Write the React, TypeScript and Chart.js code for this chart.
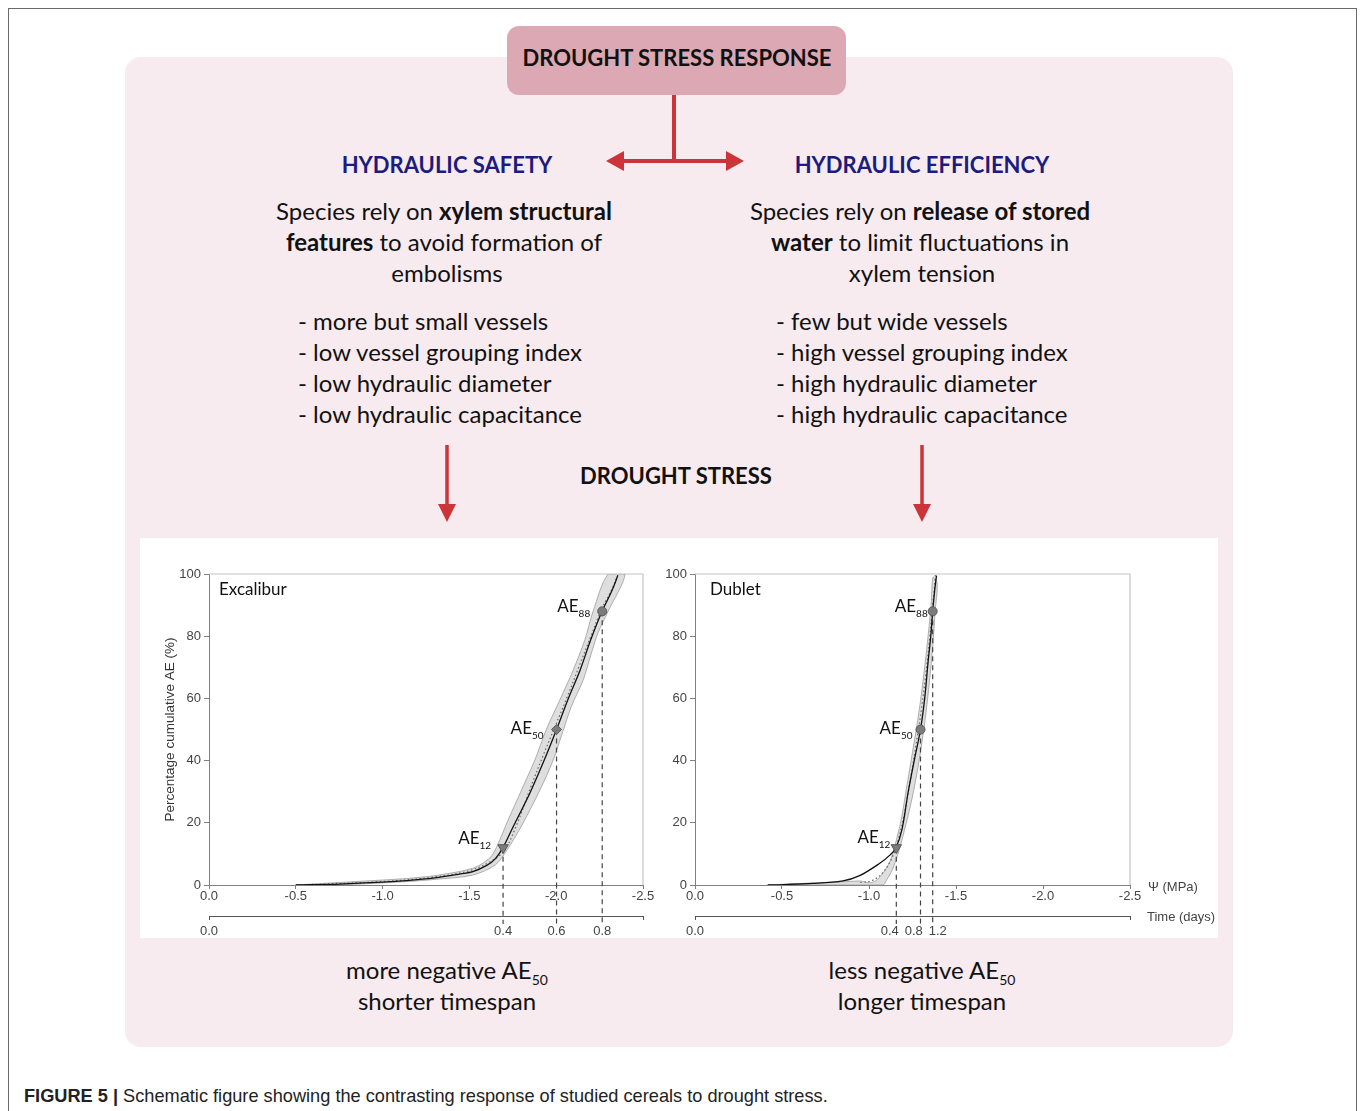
import React, { useEffect, useRef } from "react";
import { Chart, registerables } from "chart.js";

Chart.register(...registerables);

type P = [number, number];

// ---------- data ----------
const psiTicks = [0, -0.5, -1.0, -1.5, -2.0, -2.5];
const pctTicks = [0, 20, 40, 60, 80, 100];
const aeLevels = [12, 50, 88];
const guideBottom = -12.5; // % value where the dashed AE guides end (time axis)

const excaliburCurve: P[] = [
  [-0.5, 0], [-0.75, 0.3], [-1.0, 0.9], [-1.137, 1.4], [-1.3, 2.3], [-1.45, 3.6],
  [-1.52, 4.3], [-1.6, 6.3], [-1.65, 8.5], [-1.694, 12.1], [-1.75, 18.5], [-1.848, 29.5],
  [-1.93, 40], [-2.002, 50], [-2.07, 60], [-2.137, 69], [-2.2, 79], [-2.265, 88.1],
  [-2.32, 94.5], [-2.355, 99.5],
];
const excaliburDotted: P[] = [
  [-0.5, 0], [-1.0, 1.1], [-1.3, 2.6], [-1.5, 4.6], [-1.62, 7.5], [-1.7, 11], [-1.77, 19],
  [-1.85, 31], [-1.92, 41], [-1.99, 50.5], [-2.06, 60], [-2.13, 70], [-2.2, 80],
  [-2.26, 88.5], [-2.32, 95], [-2.365, 101],
];
const excaliburBandUpper: P[] = [
  [-0.5, 0], [-0.75, 0.8], [-1.0, 1.6], [-1.14, 2.1], [-1.3, 3.0], [-1.52, 5.4],
  [-1.616, 8.6], [-1.656, 12.1], [-1.723, 20.9], [-1.8, 30.5], [-1.877, 40.2],
  [-1.944, 50.1], [-2.021, 59.5], [-2.098, 69.1], [-2.165, 78.8], [-2.213, 88.1], [-2.3, 100],
];
const excaliburBandLower: P[] = [
  [-2.396, 100], [-2.3, 88.1], [-2.24, 81], [-2.2, 74], [-2.156, 66], [-2.088, 57.5],
  [-2.03, 48], [-1.983, 40.2], [-1.906, 30.5], [-1.8, 19], [-1.714, 11], [-1.65, 6.5],
  [-1.52, 3.2], [-1.3, 1.8], [-1.137, 1.1], [-0.77, 0.1], [-0.5, 0],
];
const excaliburAEPsi = [-1.694, -2.002, -2.265];
const excaliburTimePsi = [0, -1.694, -2.002, -2.265, -2.5];
const excaliburTimeLabels = ["0.0", "0.4", "0.6", "0.8", ""];

const dubletCurve: P[] = [
  [-0.418, 0], [-0.68, 0.5], [-0.85, 1.3], [-0.946, 3.0], [-1.062, 7.0], [-1.12, 9.6],
  [-1.155, 12], [-1.19, 18], [-1.224, 29.5], [-1.26, 40], [-1.296, 50], [-1.32, 60],
  [-1.34, 72], [-1.355, 80], [-1.366, 88], [-1.378, 95], [-1.388, 99.5],
];
const dubletDotted: P[] = [
  [-0.95, 0.8], [-1.02, 1.5], [-1.08, 4], [-1.13, 8.5], [-1.16, 13], [-1.2, 22],
  [-1.235, 33], [-1.27, 45], [-1.3, 56], [-1.325, 67], [-1.348, 79], [-1.366, 90],
  [-1.378, 97], [-1.383, 101],
];
const dubletBandUpper: P[] = [
  [-0.418, 0], [-0.7, 0.7], [-0.88, 1.1], [-0.95, 1.3], [-1.0, 0.7], [-1.04, 1.4],
  [-1.08, 3.8], [-1.12, 7.5], [-1.148, 12.5], [-1.185, 21], [-1.215, 31], [-1.248, 42],
  [-1.28, 53], [-1.305, 63], [-1.326, 73], [-1.345, 83], [-1.358, 91], [-1.368, 99],
];
const dubletBandLower: P[] = [
  [-1.392, 97], [-1.38, 88], [-1.368, 78], [-1.352, 68], [-1.333, 58], [-1.31, 48],
  [-1.282, 38], [-1.248, 28], [-1.21, 19], [-1.172, 11], [-1.135, 5], [-1.1, 1.5],
  [-1.08, 0], [-0.418, 0],
];
const dubletAEPsi = [-1.157, -1.296, -1.366];
const dubletTimePsi = [0, -1.119, -1.257, -1.395, -2.5];
const dubletTimeLabels = ["0.0", "0.4", "0.8", "1.2", ""];

// ---------- styles ----------
const PAGE_FONT = "Lato, 'Noto Sans', sans-serif";
const TICK_FONT = "'Liberation Sans', Arial, sans-serif";
const RED = "#cd3439";
const NAVY = "#1c1c7e";
const BODY = 24;

type Spec = {
  name: string;
  curve: P[];
  dotted: P[];
  bandUpper: P[];
  bandLower: P[];
  aePsi: number[];
  timePsi: number[];
  timeLabels: string[];
  markerStyles: string[];
  markerRot: number[];
  markerRadius: number[];
  labelOffsets: { gap: number; dy: number }[];
  showYTitle: boolean;
  showUnits: boolean;
  left: number;
  width: number;
  padLeft: number;
  padRight: number;
  yWidth: number;
  nameDx: number;
};

const pts = (a: P[]) => a.map(([x, y]) => ({ x, y }));

function buildConfig(spec: Spec): any {
  const lastTime = spec.timePsi.length - 1;
  const textPlugin = {
    id: "texts" + spec.name,
    beforeDatasetsDraw(chart: any) {
      const { ctx, chartArea: a } = chart;
      ctx.save();
      ctx.strokeStyle = "#c4c4c4";
      ctx.lineWidth = 1.2;
      ctx.beginPath();
      ctx.moveTo(a.left, a.top);
      ctx.lineTo(a.right, a.top);
      ctx.lineTo(a.right, a.bottom);
      ctx.stroke();
      ctx.restore();
    },
    afterDatasetsDraw(chart: any) {
      const { ctx, chartArea: a, scales } = chart;
      ctx.save();
      ctx.fillStyle = "#111";
      ctx.font = `17px ${PAGE_FONT}`;
      ctx.textBaseline = "middle";
      ctx.textAlign = "left";
      ctx.fillText(spec.name, a.left + spec.nameDx, a.top + 16);
      spec.aePsi.forEach((psi, i) => {
        const px = scales.x.getPixelForValue(psi);
        const py = scales.y.getPixelForValue(aeLevels[i]);
        const off = spec.labelOffsets[i];
        const sub = String(aeLevels[i]);
        ctx.textBaseline = "alphabetic";
        ctx.font = `10px ${PAGE_FONT}`;
        const sw = ctx.measureText(sub).width;
        ctx.font = `17px ${PAGE_FONT}`;
        const mw = ctx.measureText("AE").width;
        const end = px - off.gap;
        ctx.fillText("AE", end - sw - mw, py + off.dy);
        ctx.font = `10px ${PAGE_FONT}`;
        ctx.fillText(sub, end - sw, py + off.dy + 5);
      });
      if (spec.showUnits) {
        ctx.font = `13px ${TICK_FONT}`;
        ctx.fillStyle = "#444";
        ctx.textBaseline = "middle";
        ctx.fillText("\u03A8 (MPa)", a.right + 18, a.bottom + 2);
        ctx.fillText("Time (days)", a.right + 17, scales.xTime.top + 1);
      }
      ctx.restore();
    },
  };

  const datasets: any[] = [
    {
      type: "line",
      data: spec.aePsi.map((p, i) => ({ x: p, y: aeLevels[i] })),
      showLine: false,
      pointStyle: spec.markerStyles,
      pointRotation: spec.markerRot,
      pointRadius: spec.markerRadius,
      pointBackgroundColor: "#7b7b7b",
      pointBorderColor: "#5a5a5a",
      pointBorderWidth: 1,
      order: 0,
    },
    {
      type: "line",
      data: pts(spec.curve),
      borderColor: "#111",
      borderWidth: 1.3,
      pointRadius: 0,
      tension: 0.35,
      fill: false,
      order: 1,
    },
    {
      type: "line",
      data: pts(spec.dotted),
      borderColor: "#666",
      borderWidth: 1.2,
      borderDash: [1.5, 2.5],
      pointRadius: 0,
      tension: 0.35,
      fill: false,
      order: 2,
    },
    ...spec.aePsi.map((p, i) => ({
      type: "line",
      data: [
        { x: p, y: aeLevels[i] },
        { x: p, y: guideBottom },
      ],
      borderColor: "#444",
      borderWidth: 1.2,
      borderDash: [5, 4],
      pointRadius: 0,
      fill: false,
      clip: false,
      order: 3,
    })),
    {
      type: "line",
      data: pts([...spec.bandUpper, ...spec.bandLower]),
      fill: "shape",
      backgroundColor: "#dedede",
      borderColor: "#9c9c9c",
      borderWidth: 0.8,
      pointRadius: 0,
      tension: 0.3,
      order: 5,
    },
  ];

  const tickFont = { family: TICK_FONT, size: 13 };
  return {
    type: "line",
    data: { datasets },
    plugins: [textPlugin],
    options: {
      animation: false,
      responsive: false,
      maintainAspectRatio: false,
      events: [],
      layout: { padding: { left: spec.padLeft, right: spec.padRight, top: 36, bottom: 0 } },
      plugins: { legend: { display: false }, tooltip: { enabled: false } },
      scales: {
        x: {
          type: "linear",
          position: "bottom",
          weight: 0,
          min: -2.5,
          max: 0,
          reverse: true,
          afterBuildTicks: (ax: any) => {
            ax.ticks = psiTicks.map((v) => ({ value: v }));
          },
          ticks: {
            callback: (v: any) => Number(v).toFixed(1),
            font: tickFont,
            color: "#444",
            padding: 0,
            autoSkip: false,
            maxRotation: 0,
          },
          grid: { drawOnChartArea: false, tickLength: 4, color: "#808080" },
          border: { color: "#808080" },
          afterFit: (ax: any) => {
            ax.height = 31;
            ax.paddingLeft = 0;
            ax.paddingRight = 0;
          },
        },
        xTime: {
          type: "linear",
          position: "bottom",
          weight: 1,
          min: -2.5,
          max: 0,
          reverse: true,
          afterBuildTicks: (ax: any) => {
            ax.ticks = spec.timePsi.map((v) => ({ value: v }));
          },
          ticks: {
            callback: (_v: any, i: number) => spec.timeLabels[i],
            font: tickFont,
            color: "#444",
            padding: 4,
            autoSkip: false,
            maxRotation: 0,
          },
          grid: {
            drawOnChartArea: false,
            tickLength: 4,
            color: "#555",
            tickColor: (c: any) => (c.index === 0 || c.index === lastTime ? "#555" : "rgba(0,0,0,0)"),
          },
          border: { color: "#555" },
          afterFit: (ax: any) => {
            ax.height = 22;
            ax.paddingLeft = 0;
            ax.paddingRight = 0;
          },
        },
        y: {
          type: "linear",
          min: 0,
          max: 100,
          afterBuildTicks: (ax: any) => {
            ax.ticks = pctTicks.map((v) => ({ value: v }));
          },
          ticks: { font: tickFont, color: "#444", padding: 3, autoSkip: false },
          title: {
            display: spec.showYTitle,
            text: "Percentage cumulative AE (%)",
            font: { family: TICK_FONT, size: 13.5 },
            color: "#333",
            padding: { top: 4, bottom: 0 },
          },
          grid: { drawOnChartArea: false, tickLength: 5, color: "#808080" },
          border: { color: "#808080" },
          afterFit: (ax: any) => {
            ax.width = spec.yWidth;
            ax.paddingTop = 0;
            ax.paddingBottom = 0;
          },
        },
      },
    },
  };
}

function AEChart({ spec }: { spec: Spec }) {
  const ref = useRef<HTMLCanvasElement>(null);
  useEffect(() => {
    const chart = new Chart(ref.current as HTMLCanvasElement, buildConfig(spec));
    return () => chart.destroy();
  }, []);
  return (
    <canvas
      ref={ref}
      width={spec.width}
      height={400}
      style={{ position: "absolute", left: spec.left, top: 538, width: spec.width, height: 400 }}
    />
  );
}

const excaliburSpec: Spec = {
  name: "Excalibur",
  curve: excaliburCurve,
  dotted: excaliburDotted,
  bandUpper: excaliburBandUpper,
  bandLower: excaliburBandLower,
  aePsi: excaliburAEPsi,
  timePsi: excaliburTimePsi,
  timeLabels: excaliburTimeLabels,
  markerStyles: ["triangle", "rectRot", "circle"],
  markerRot: [180, 0, 0],
  markerRadius: [6, 5, 4.5],
  labelOffsets: [
    { gap: 12, dy: -4 },
    { gap: 13, dy: 4 },
    { gap: 12, dy: 1 },
  ],
  showYTitle: true,
  showUnits: false,
  left: 140,
  width: 515,
  padLeft: 18,
  padRight: 12,
  yWidth: 51,
  nameDx: 10,
};

const dubletSpec: Spec = {
  name: "Dublet",
  curve: dubletCurve,
  dotted: dubletDotted,
  bandUpper: dubletBandUpper,
  bandLower: dubletBandLower,
  aePsi: dubletAEPsi,
  timePsi: dubletTimePsi,
  timeLabels: dubletTimeLabels,
  markerStyles: ["triangle", "circle", "circle"],
  markerRot: [180, 0, 0],
  markerRadius: [6, 4.5, 4.5],
  labelOffsets: [
    { gap: 6, dy: -5 },
    { gap: 8, dy: 4 },
    { gap: 5, dy: 1 },
  ],
  showYTitle: false,
  showUnits: true,
  left: 655,
  width: 563,
  padLeft: 10,
  padRight: 88,
  yWidth: 30,
  nameDx: 15,
};

// ---------- text helpers ----------
function T({
  x,
  y,
  align = "center",
  size = BODY,
  weight = 400,
  color = "#111",
  children,
}: {
  x: number;
  y: number;
  align?: "center" | "left";
  size?: number;
  weight?: number;
  color?: string;
  children: React.ReactNode;
}) {
  const lh = Math.round(size * 1.3);
  const shift = size === BODY ? -1.5 : -0.5;
  const style: React.CSSProperties = {
    position: "absolute",
    top: y - lh / 2 + shift,
    height: lh,
    lineHeight: lh + "px",
    fontSize: size,
    fontWeight: weight,
    color,
    fontFamily: PAGE_FONT,
    whiteSpace: "nowrap",
  };
  if (align === "center") {
    style.left = x - 400;
    style.width = 800;
    style.textAlign = "center";
  } else {
    style.left = x;
  }
  return <div style={style}>{children}</div>;
}

const Sub = ({ children }: { children: React.ReactNode }) => (
  <span style={{ fontSize: 14, position: "relative", top: 6 }}>{children}</span>
);

const leftList = ["- more but small vessels", "- low vessel grouping index", "- low hydraulic diameter", "- low hydraulic capacitance"];
const rightList = ["- few but wide vessels", "- high vessel grouping index", "- high hydraulic diameter", "- high hydraulic capacitance"];
const listY = [322, 353, 384, 415];

export default function App() {
  return (
    <div
      style={{
        position: "absolute",
        left: 0,
        top: 0,
        width: 1360,
        height: 1111,
        overflow: "hidden",
        background: "#fff",
      }}
    >
      {/* outer frame */}
      <div
        style={{
          position: "absolute",
          left: 8,
          top: 8,
          width: 1347,
          height: 1200,
          border: "1px solid #6a6a6a",
        }}
      />
      {/* pink panel */}
      <div
        style={{
          position: "absolute",
          left: 125,
          top: 57,
          width: 1108,
          height: 990,
          borderRadius: 16,
          background: "#f7ebef",
        }}
      />
      {/* header box */}
      <div
        style={{
          position: "absolute",
          left: 507,
          top: 26,
          width: 339,
          height: 69,
          borderRadius: 12,
          background: "#dba8b4",
        }}
      />
      <svg width={1360} height={1111} style={{ position: "absolute", left: 0, top: 0 }}>
        <line x1={674} y1={95} x2={674} y2={161} stroke={RED} strokeWidth={4} />
        <line x1={620} y1={161} x2={730} y2={161} stroke={RED} strokeWidth={4} />
        <polygon points="606,161 624,151 624,171" fill={RED} />
        <polygon points="744,161 726,151 726,171" fill={RED} />
        <line x1={447} y1={445} x2={447} y2={507} stroke={RED} strokeWidth={3.5} />
        <polygon points="447,522 438,504 456,504" fill={RED} />
        <line x1={922} y1={445} x2={922} y2={507} stroke={RED} strokeWidth={3.5} />
        <polygon points="922,522 913,504 931,504" fill={RED} />
      </svg>
      <T x={677} y={58} size={22} weight={700} color="#111">
        DROUGHT STRESS RESPONSE
      </T>
      <T x={447} y={165} size={22} weight={700} color={NAVY}>
        HYDRAULIC SAFETY
      </T>
      <T x={922} y={165} size={22} weight={700} color={NAVY}>
        HYDRAULIC EFFICIENCY
      </T>

      <T x={444} y={212}>
        Species rely on <b>xylem structural</b>
      </T>
      <T x={444} y={243}>
        <b>features</b> to avoid formation of
      </T>
      <T x={447} y={274}>embolisms</T>
      <T x={920} y={212}>
        Species rely on <b>release of stored</b>
      </T>
      <T x={920} y={243}>
        <b>water</b> to limit fluctuations in
      </T>
      <T x={922} y={274}>xylem tension</T>

      {leftList.map((s, i) => (
        <T key={"l" + i} x={298} y={listY[i]} align="left">
          {s}
        </T>
      ))}
      {rightList.map((s, i) => (
        <T key={"r" + i} x={776} y={listY[i]} align="left">
          {s}
        </T>
      ))}

      <T x={676} y={476} size={22} weight={700} color="#111">
        DROUGHT STRESS
      </T>

      {/* white chart panel */}
      <div
        style={{
          position: "absolute",
          left: 140,
          top: 538,
          width: 1078,
          height: 400,
          background: "#fff",
        }}
      />
      <AEChart spec={excaliburSpec} />
      <AEChart spec={dubletSpec} />

      <T x={447} y={971}>
        more negative AE<Sub>50</Sub>
      </T>
      <T x={447} y={1002}>shorter timespan</T>
      <T x={922} y={971}>
        less negative AE<Sub>50</Sub>
      </T>
      <T x={922} y={1002}>longer timespan</T>

      <div
        style={{
          position: "absolute",
          left: 24,
          top: 1085,
          height: 22,
          lineHeight: "22px",
          fontFamily: TICK_FONT,
          fontSize: 18.2,
          color: "#222",
          whiteSpace: "nowrap",
        }}
      >
        <b>FIGURE 5 |</b> Schematic figure showing the contrasting response of studied cereals to drought stress.
      </div>
    </div>
  );
}
